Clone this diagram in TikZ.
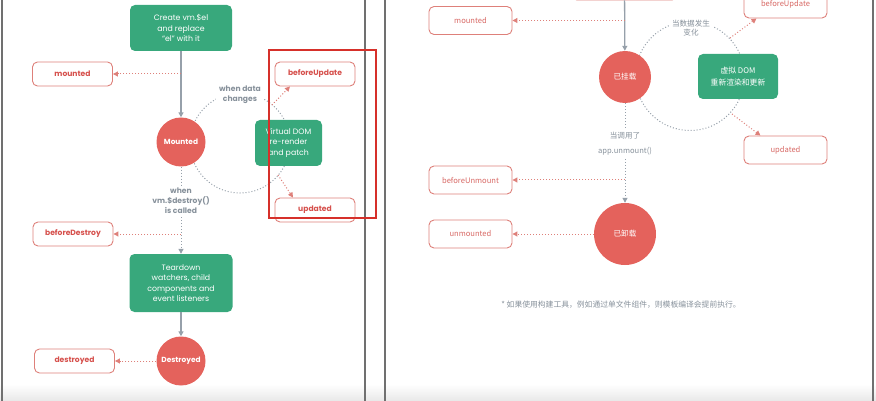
\documentclass[tikz,border=0pt]{standalone}
\usepackage{fontspec}
\setmainfont{Poppins}
\newfontfamily\cjk{Noto Sans CJK SC}
\usetikzlibrary{arrows.meta, positioning, calc}
\definecolor{vuegreen}{RGB}{56,168,124}
\definecolor{hookred}{RGB}{228,98,92}
\definecolor{hookline}{RGB}{222,128,122}
\definecolor{hooktext}{RGB}{214,80,76}
\definecolor{hooktextlight}{RGB}{216,104,100}
\definecolor{flowgray}{RGB}{150,160,170}
\definecolor{labelgray}{RGB}{135,145,155}
\definecolor{framegray}{RGB}{112,112,112}
\definecolor{markred}{RGB}{214,48,42}

\begin{document}
\begin{tikzpicture}[x=1pt, y=-1pt,
  stage/.style={fill=vuegreen, rounded corners=5pt, text=white, align=center, inner sep=0pt, font=\fontsize{7.8}{10.5}\selectfont},
  hookbox/.style={draw=hookline, line width=0.9pt, fill=white, rounded corners=5pt, inner sep=0pt, text=hooktext, font=\fontsize{7.6}{8}\selectfont\bfseries, minimum width=80pt, minimum height=24pt},
  hookboxR/.style={hookbox, text=hooktextlight, font=\cjk\fontsize{7.6}{9}\selectfont, minimum width=83pt, minimum height=28pt},
  phase/.style={circle, fill=hookred, text=white, inner sep=0pt, font=\fontsize{7.4}{8}\selectfont\bfseries},
  phaseR/.style={phase, font=\cjk\fontsize{7.6}{9}\selectfont},
  cond/.style={fill=white, text=labelgray, align=center, inner sep=3pt, font=\fontsize{7.6}{10}\selectfont\bfseries},
  condR/.style={cond, font=\cjk\fontsize{7.6}{15}\selectfont},
  tip/.style={-{Triangle[width=5pt,length=5pt]}},
  flow/.style={draw=flowgray, line width=1.3pt, tip},
  cycleline/.style={draw=flowgray, line width=1pt, dash pattern=on 1pt off 2pt},
  hookarrow/.style={draw=hookline, line width=1pt, dash pattern=on 1pt off 2pt, tip}
]
\useasboundingbox (0,0) rectangle (876,401);
\clip (0,0) rectangle (876,401);

% page background and frames
\shade[top color=white, bottom color=black!9] (0,384) rectangle (876,401);
\draw[framegray, line width=1.3pt] (2,0) -- (2,401) (365,0) -- (365,401)
  (385,0) -- (385,401) (873,0) -- (873,401);

% update cycles
\coordinate (loopL) at (240,143);
\coordinate (loopR) at (690,76);
\draw[cycleline] (loopL) circle[radius=50];
\draw[cycleline] (loopR) circle[radius=54.5];

% ---- Vue 2 ----
\node[stage, minimum width=102pt, minimum height=46pt] (createEl) at (181,28) {Create vm.\$el\\and replace\\``el'' with it};
\node[hookbox] (mountedHook) at (72.5,74) {mounted};
\node[phase, minimum size=49pt] (mountedSt) at (181,142) {Mounted};
\node[cond] (dataLbl) at (240,95) {when data\\changes};
\node[stage, minimum width=67pt, minimum height=46pt] (vdomL) at (288.5,143) {Virtual DOM\\re-render\\and patch};
\node[hookbox] (beforeUpdL) at (315,74) {beforeUpdate};
\node[hookbox] (updatedL) at (315,210) {updated};
\node[cond] (destroyLbl) at (181,201) {when\\vm.\$destroy()\\is called};
\node[hookbox] (beforeDestroy) at (73,234) {beforeDestroy};
\node[stage, minimum width=103pt, minimum height=58pt] (teardown) at (181,283) {Teardown\\watchers, child\\components and\\event listeners};
\node[phase, minimum size=49pt] (destroyedSt) at (181,361) {Destroyed};
\node[hookbox] (destroyedHook) at (74.5,361) {destroyed};

\coordinate (upL) at (272,105);
\coordinate (downL) at (278,175);

\draw[flow] (createEl) -- (mountedSt);
\draw[hookarrow] (mountedHook -| createEl) -- (mountedHook);
\draw[hookarrow] (upL) -- ([xshift=-25pt]beforeUpdL.south);
\draw[hookarrow] (downL) -- ([xshift=-22pt]updatedL.north);
\draw[cycleline] (mountedSt) -- (destroyLbl);
\draw[cycleline, tip] (destroyLbl) -- (teardown);
\draw[hookarrow] (beforeDestroy -| teardown) -- (beforeDestroy);
\draw[flow] (teardown) -- (destroyedSt);
\draw[hookarrow] (destroyedSt) -- (destroyedHook);

% ---- Vue 3 ----
\node[draw=hookline, line width=0.9pt, fill=white, rounded corners=5pt, minimum width=105pt, minimum height=30pt] (topBox) at (624.5,-15) {};
\node[hookboxR] (mountedR) at (470.5,20.5) {mounted};
\node[phaseR, minimum size=52pt] (mountedRSt) at (625,77) {已挂载};
\node[condR] (dataLblR) at (691,28) {当数据发生\\[-6pt]变化};
\node[stage, minimum width=80pt, minimum height=45pt, font=\cjk\fontsize{7.8}{12}\selectfont] (vdomR) at (738,76.5) {虚拟 DOM\\重新渲染和更新};
\node[hookboxR] (beforeUpdR) at (785.5,4) {beforeUpdate};
\node[hookboxR] (updatedR) at (785.5,150) {updated};
\node[condR] (unmountLbl) at (625,144) {当调用了\\app.unmount()};
\node[hookboxR] (beforeUnmount) at (470.5,180) {beforeUnmount};
\node[phaseR, minimum size=62pt] (unmountedSt) at (625,234) {已卸载};
\node[hookboxR] (unmountedR) at (470.5,234) {unmounted};
\node[text=labelgray, font=\cjk\fontsize{7.8}{9}\selectfont] (footnote) at (621,305) {* 如果使用构建工具，例如通过单文件组件，则模板编译会提前执行。};

\coordinate (upR) at (730,38);
\coordinate (downR) at (732,114);

\draw[flow] (topBox) -- (mountedRSt);
\draw[hookarrow] (mountedR -| mountedRSt) -- (mountedR);
\draw[hookarrow] (upR) -- ([xshift=-29pt]beforeUpdR.south);
\draw[hookarrow] (downR) -- ([xshift=-25pt]updatedR.north);
\draw[cycleline] (mountedRSt) -- (unmountLbl);
\draw[cycleline, tip] (unmountLbl) -- (unmountedSt);
\draw[hookarrow] (beforeUnmount -| unmountedSt) -- (beforeUnmount);
\draw[hookarrow] (unmountedSt) -- (unmountedR);

% highlight
\draw[markred, line width=1.2pt] (269,50) rectangle (376,218);
\end{tikzpicture}
\end{document}
